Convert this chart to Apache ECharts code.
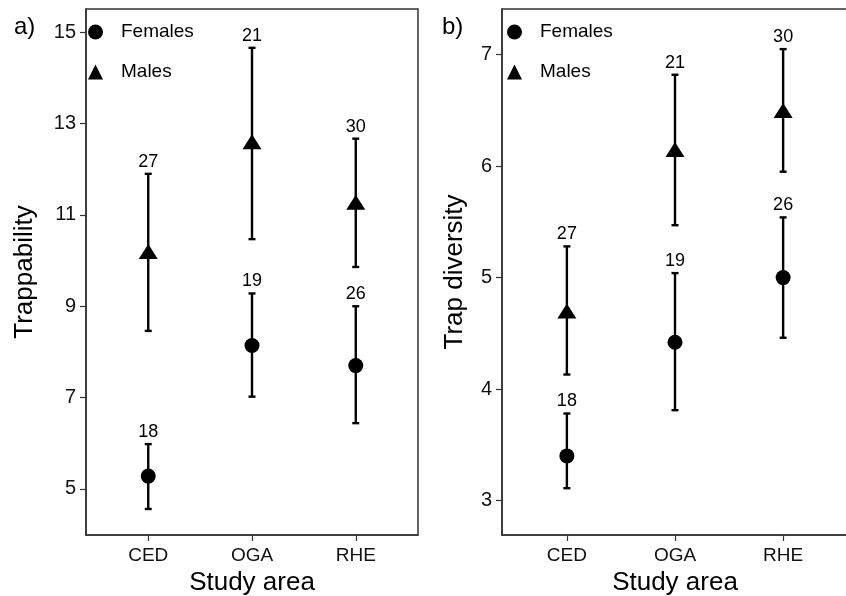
<!DOCTYPE html>
<html>
<head>
<meta charset="utf-8">
<script src="https://cdn.jsdelivr.net/npm/echarts@6/dist/echarts.min.js"></script>
<style>
html,body{margin:0;padding:0;background:#fff;}
#c{width:846px;height:596px;}
</style>
</head>
<body>
<div id="c"></div>
<script>
const categories = ['CED', 'OGA', 'RHE'];

// Panel a) Trappability
const trapFemMean = [5.28, 8.14, 7.70];
const trapFemLow  = [4.56, 7.02, 6.44];
const trapFemHigh = [5.98, 9.28, 9.00];
const trapFemN    = [18, 19, 26];
const trapMalMean = [10.20, 12.60, 11.28];
const trapMalLow  = [8.46, 10.47, 9.86];
const trapMalHigh = [11.90, 14.66, 12.67];
const trapMalN    = [27, 21, 30];

// Panel b) Trap diversity
const divFemMean = [3.40, 4.42, 5.00];
const divFemLow  = [3.11, 3.81, 4.46];
const divFemHigh = [3.78, 5.04, 5.54];
const divFemN    = [18, 19, 26];
const divMalMean = [4.70, 6.15, 6.50];
const divMalLow  = [4.13, 5.47, 5.95];
const divMalHigh = [5.28, 6.82, 7.05];
const divMalN    = [27, 21, 30];

const trapTicks = [5, 7, 9, 11, 13, 15];
const divTicks = [3, 4, 5, 6, 7];
const xTicks = [1, 2, 3];

const FONT = '"Liberation Sans", Arial, sans-serif';
const INK = '#000';
const AX = '#333';

function errSeries(name, idx, low, high, n) {
  return {
    type: 'custom',
    name: name,
    xAxisIndex: idx, yAxisIndex: idx,
    z: 2,
    silent: true,
    data: categories.map((c, i) => [i + 1, low[i], high[i], n[i]]),
    renderItem: function (params, api) {
      const x = api.value(0);
      const lo = api.coord([x, api.value(1)]);
      const hi = api.coord([x, api.value(2)]);
      const cap = 3.5;
      const st = { stroke: INK, lineWidth: 2.4 };
      return {
        type: 'group',
        children: [
          { type: 'line', shape: { x1: hi[0], y1: hi[1], x2: lo[0], y2: lo[1] }, style: st },
          { type: 'line', shape: { x1: hi[0] - cap, y1: hi[1], x2: hi[0] + cap, y2: hi[1] }, style: st },
          { type: 'line', shape: { x1: lo[0] - cap, y1: lo[1], x2: lo[0] + cap, y2: lo[1] }, style: st },
          { type: 'text', x: hi[0], y: hi[1] - 12,
            style: { text: String(api.value(3)), fill: INK, font: '18px ' + FONT, align: 'center', verticalAlign: 'middle' } }
        ]
      };
    }
  };
}

function meanSeries(name, idx, mean, symbol, size) {
  return {
    type: 'scatter',
    name: name,
    xAxisIndex: idx, yAxisIndex: idx,
    z: 3,
    symbol: symbol,
    symbolSize: size,
    itemStyle: { color: INK, opacity: 1 },
    data: categories.map((c, i) => [i + 1, mean[i]])
  };
}

function xAxis(idx) {
  return {
    type: 'value', gridIndex: idx, min: 0.4, max: 3.6,
    name: 'Study area', nameLocation: 'middle', nameGap: 34,
    nameTextStyle: { fontSize: 26, color: INK, fontFamily: FONT },
    axisLine: { show: true, lineStyle: { color: AX, width: 1.5 } },
    axisTick: { show: true, inside: false, length: 6, customValues: xTicks, lineStyle: { color: AX, width: 1.2 } },
    axisLabel: { customValues: xTicks, margin: 11, fontSize: 19, color: '#111', fontFamily: FONT,
      formatter: v => categories[Math.round(v) - 1] },
    splitLine: { show: false }
  };
}

function yAxis(idx, min, max, ticks, name, gap) {
  return {
    type: 'value', gridIndex: idx, min: min, max: max,
    name: name, nameLocation: 'middle', nameGap: gap, nameRotate: 90,
    nameTextStyle: { fontSize: 26, color: INK, fontFamily: FONT },
    axisLine: { show: true, lineStyle: { color: AX, width: 1.5 } },
    axisTick: { show: true, inside: false, length: 6, customValues: ticks, lineStyle: { color: AX, width: 1.2 } },
    axisLabel: { customValues: ticks, margin: 10, fontSize: 20, color: '#111', fontFamily: FONT },
    splitLine: { show: false }
  };
}

function legend(left) {
  return {
    left: left, top: 17, orient: 'vertical',
    itemGap: 20, itemWidth: 15, itemHeight: 15,
    selectedMode: false,
    textStyle: { fontSize: 19, lineHeight: 20, color: INK, fontFamily: FONT, padding: [0, 0, 0, 13] },
    data: [
      { name: 'Females', icon: 'circle' },
      { name: 'Males', icon: 'triangle' }
    ]
  };
}

const chart = echarts.init(document.getElementById('c'), null, { renderer: 'canvas' });
chart.setOption({
  animation: false,
  backgroundColor: '#fff',
  title: [
    { text: 'a)', left: 9, top: 10, textStyle: { fontSize: 24, fontWeight: 'normal', color: INK, fontFamily: FONT } },
    { text: 'b)', left: 437, top: 10, textStyle: { fontSize: 24, fontWeight: 'normal', color: INK, fontFamily: FONT } }
  ],
  legend: [legend(83), legend(502)],
  grid: [
    { left: 86, top: 9, width: 332, height: 526, show: true, borderColor: AX, borderWidth: 1.5, containLabel: false, outerBoundsMode: 'none' },
    { left: 502, top: 9, width: 346, height: 526, show: true, borderColor: AX, borderWidth: 1.5, containLabel: false, outerBoundsMode: 'none' }
  ],
  xAxis: [xAxis(0), xAxis(1)],
  yAxis: [
    yAxis(0, 3.99, 15.51, trapTicks, 'Trappability', 48),
    yAxis(1, 2.69, 7.41, divTicks, 'Trap diversity', 34)
  ],
  series: [
    errSeries('fa', 0, trapFemLow, trapFemHigh, trapFemN),
    errSeries('ma', 0, trapMalLow, trapMalHigh, trapMalN),
    meanSeries('Females', 0, trapFemMean, 'circle', 15),
    meanSeries('Males', 0, trapMalMean, 'triangle', [19, 15]),
    errSeries('fb', 1, divFemLow, divFemHigh, divFemN),
    errSeries('mb', 1, divMalLow, divMalHigh, divMalN),
    meanSeries('Females', 1, divFemMean, 'circle', 15),
    meanSeries('Males', 1, divMalMean, 'triangle', [19, 15])
  ]
});
</script>
</body>
</html>
